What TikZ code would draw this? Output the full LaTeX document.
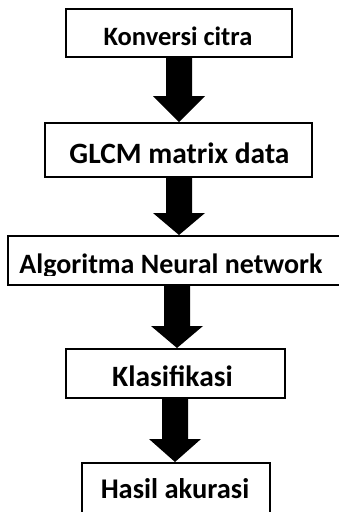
\documentclass[tikz,border=0pt]{standalone}
\usepackage{fontspec}
\setmainfont{Carlito}
\usetikzlibrary{calc}
\begin{document}
\begin{tikzpicture}[x=1pt,y=-1pt,
  box/.style={draw=black, line width=2pt, fill=white, inner sep=0pt},
  lbl/.style={anchor=base, inner sep=0pt, font=\bfseries\fontsize{#1}{#1}\selectfont},
  blockarrow/.style={fill=black}]
\useasboundingbox (0,0) rectangle (339,512);
\fill[white] (0,0) rectangle (339,512);
% boxes
\node[box, minimum width=226pt, minimum height=48pt] (b1) at (179,33) {};
\node[box, minimum width=267pt, minimum height=54pt] (b2) at (178.5,150) {};
\node[box, minimum width=342pt, minimum height=49pt] (b3) at (179,260.5) {};
\node[box, minimum width=219pt, minimum height=49pt] (b4) at (175.5,373.5) {};
\node[box, minimum width=188pt, minimum height=68pt] (b5) at (176,497) {};
% labels
\node[lbl=26.5] (t1) at (178,45) {Konversi citra};
\node[lbl=29.5] (t2) at (179.5,163) {GLCM matrix data};
\begin{scope}
\clip (0,238) rectangle (339,275);
\node[lbl=28] (t3) at (171,273) {Algoritma Neural network};
\end{scope}
\node[lbl=29.5] (t4) at (172.5,386) {Klasifikasi};
\node[lbl=28.5] (t5) at (175,498) {Hasil akurasi};
% arrow axes
\coordinate (ax1) at (179,0);
\coordinate (ax2) at (179,0);
\coordinate (ax3) at (177,0);
\coordinate (ax4) at (175,0);
\newcommand{\blockarr}[4]{%
  \fill[blockarrow] ($(#1.south -| #3)+(-13,0)$) -- ($(#1.south -| #3)+(13,0)$)
    -- ($(#2.north -| #3)+(13,-#4)$) -- ($(#2.north -| #3)+(26,-#4)$)
    -- (#2.north -| #3) -- ($(#2.north -| #3)+(-26,-#4)$)
    -- ($(#2.north -| #3)+(-13,-#4)$) -- cycle;}
\blockarr{b1}{b2}{ax1}{26}
\blockarr{b2}{b3}{ax2}{22}
\blockarr{b3}{b4}{ax3}{22}
\blockarr{b4}{b5}{ax4}{23}
\end{tikzpicture}
\end{document}
